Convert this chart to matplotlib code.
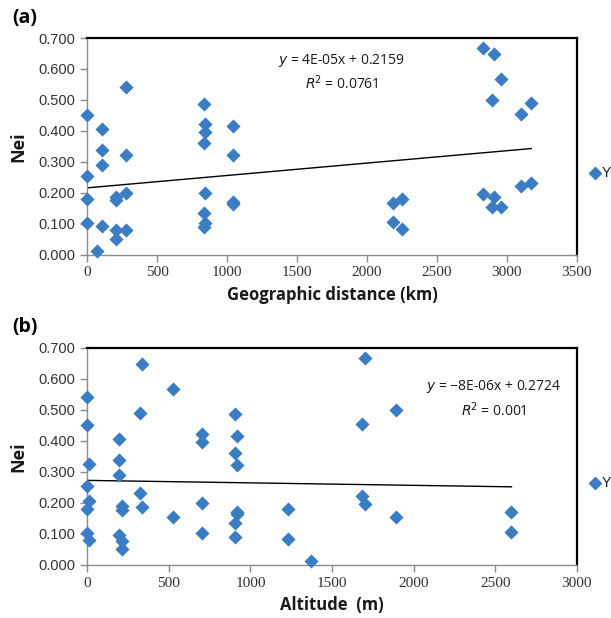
import numpy as np
import matplotlib
matplotlib.use("Agg")
import matplotlib.pyplot as plt

plt.rcParams['font.family'] = ['Liberation Sans', 'DejaVu Sans']

# (a) Nei vs geographic distance
dist_km = [0, 0, 0, 0, 72, 103, 103, 103, 103, 206, 206, 206, 206,
           277, 277, 277, 277, 835, 845, 845, 835, 845, 835, 845, 835,
           1040, 1040, 1040, 1040, 2830, 2906, 2961, 2894, 3175, 3099,
           3099, 3175, 2830, 2906, 2894, 2961, 2184, 2253, 2184, 2253]
nei_a = [0.452, 0.255, 0.180, 0.101, 0.013, 0.406, 0.339, 0.290, 0.093,
         0.187, 0.176, 0.080, 0.050, 0.542, 0.323, 0.200, 0.080,
         0.487, 0.422, 0.397, 0.360, 0.198, 0.134, 0.101, 0.090,
         0.416, 0.323, 0.170, 0.165, 0.669, 0.647, 0.567, 0.500, 0.489,
         0.455, 0.223, 0.231, 0.196, 0.187, 0.153, 0.153, 0.168, 0.179,
         0.105, 0.083]
slope_a, icpt_a, xend_a = 4e-05, 0.2159, 3175

# (b) Nei vs altitude
alt_m = [0, 0, 12, 0, 12, 0, 0, 12, 194, 194, 194, 211, 211, 194, 211, 211,
         335, 323, 323, 335, 525, 525, 701, 701, 701, 701, 903, 916, 903,
         916, 916, 916, 903, 903, 1230, 1230, 1369, 1702, 1894, 1684,
         1684, 1702, 1894, 2597, 2597]
nei_b = [0.543, 0.452, 0.325, 0.255, 0.206, 0.180, 0.101, 0.080, 0.406,
         0.339, 0.290, 0.191, 0.177, 0.096, 0.077, 0.050, 0.647, 0.489,
         0.231, 0.187, 0.567, 0.153, 0.422, 0.397, 0.198, 0.101, 0.487,
         0.416, 0.360, 0.323, 0.170, 0.165, 0.134, 0.090, 0.180, 0.084,
         0.013, 0.669, 0.500, 0.455, 0.223, 0.195, 0.153, 0.169, 0.105]
slope_b, icpt_b, xend_b = -8e-06, 0.2724, 2600

yticks = [0.0, 0.1, 0.2, 0.3, 0.4, 0.5, 0.6, 0.7]
blue = '#3a7dc2'
grey = '#8c8c8c'

fig = plt.figure(figsize=(6.11, 6.18), dpi=100)


def panel(rect, x, y, slope, icpt, xend, xmax, xlabel, eq, r2, eqpos, tag, tagy, legy):
    ax = fig.add_axes(rect)
    ax.scatter(x, y, marker='D', s=52, color=blue, zorder=3, clip_on=False,
               linewidths=0)
    xx = np.array([0, xend])
    ax.plot(xx, slope * xx + icpt, color='black', lw=1.0, zorder=2)
    ax.set_xlim(0, xmax)
    ax.set_ylim(0, 0.7)
    ax.set_yticks(yticks)
    ax.set_yticklabels(['%.3f' % v for v in yticks], fontsize=10.5)
    ax.set_xticks(np.arange(0, xmax + 1, 500))
    ax.set_xticklabels([str(v) for v in range(0, xmax + 1, 500)],
                       family='Liberation Serif', fontsize=11)
    for s in ['left', 'bottom']:
        ax.spines[s].set_color(grey)
        ax.spines[s].set_linewidth(1.0)
    for s in ['top', 'right']:
        ax.spines[s].set_color('black')
        ax.spines[s].set_linewidth(1.6)
    ax.tick_params(axis='both', length=5, width=1.0, direction='out',
                   colors='#333333')
    ax.tick_params(axis='both', color=grey)
    ax.set_xlabel(xlabel, fontsize=12, fontweight='bold',
                  family='Open Sans', labelpad=5, color='#1a1a1a')
    ax.set_ylabel('Nei', fontsize=13, fontweight='bold', family='Open Sans',
                  labelpad=8, color='#1a1a1a')
    ax.text(eqpos[0], eqpos[1], eq + '\n' + r2, transform=ax.transAxes,
            ha='center', va='center', fontsize=10, family='Open Sans',
            linespacing=1.4, color='#1a1a1a')
    fig.text(12 / 611, tagy, tag, fontsize=14, fontweight='bold',
             family='Open Sans', va='center')
    fig.lines.append(plt.Line2D([595 / 611], [legy], marker='D', ms=6,
                                color=blue, lw=0, transform=fig.transFigure))
    fig.text(602 / 611, legy, 'Y', fontsize=10, va='center', color='#1a1a1a')
    return ax


panel([0.1429, 0.5879, 0.8010, 0.3506], dist_km, nei_a, slope_a, icpt_a,
      xend_a, 3500, 'Geographic distance (km)',
      r'$y$ = 4E-05x + 0.2159', r'$R$$^2$ = 0.0761', (0.52, 0.84),
      '(a)', 1 - 18 / 618, 1 - 172.7 / 618)
panel([0.1429, 0.0862, 0.8010, 0.3507], alt_m, nei_b, slope_b, icpt_b,
      xend_b, 3000, 'Altitude  (m)',
      r'$y$ = −8E-06x + 0.2724', r'$R$$^2$ = 0.001', (0.83, 0.765),
      '(b)', 1 - 327 / 618, 1 - 482.7 / 618)

fig.savefig('out.png', dpi=100)
